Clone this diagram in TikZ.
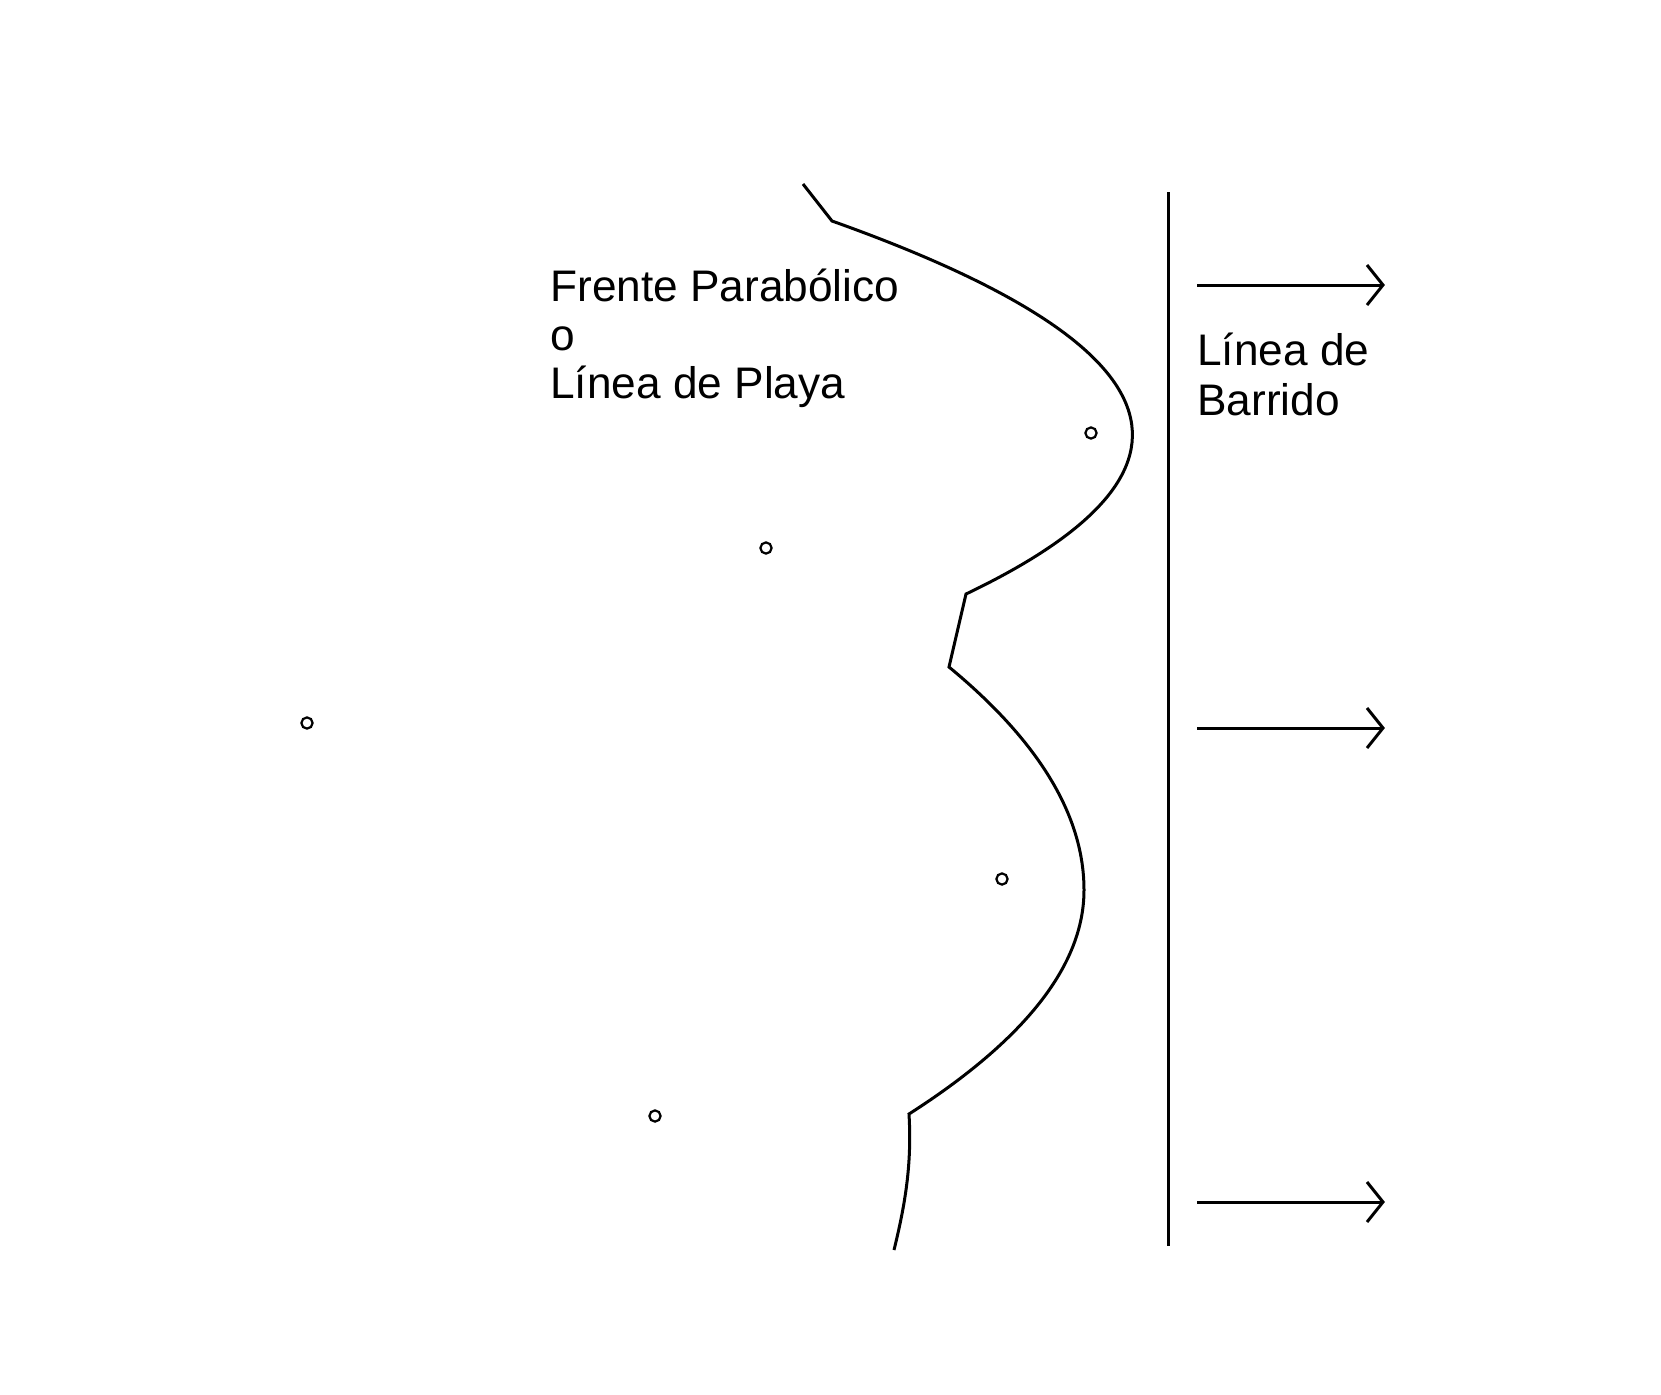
\documentclass[tikz,border=0pt]{standalone}
\usepackage{fontspec}
\setmainfont{Liberation Sans}
\begin{document}
\begin{tikzpicture}[x=0.5pt,y=-0.5pt,
  shore/.style={line width=1.5pt,line join=miter},
  lbl/.style={anchor=base west,inner sep=0pt,font=\fontsize{22.1}{24.3}\selectfont},
  dot/.style={line width=1.1pt},
  flow/.style={line width=1.5pt}]
\fill[white] (0,0) rectangle (1661,1394);
\useasboundingbox (0,0) rectangle (1661,1394);
% front / beach line
\draw[shore] (803,184) -- (832,221)
  .. controls (1181.3,345.3) and (1226,469.7) .. (966,594)
  -- (949,667)
  .. controls (1039,741.3) and (1084,815.7) .. (1084,890)
  .. controls (1084,964.7) and (1025.7,1039.3) .. (909,1114)
  .. controls (912,1165) and (905,1205) .. (894,1250);
% sweep line
\coordinate (vt) at (1168.5,192);
\coordinate (vb) at (1168.5,1246);
\draw[flow] (vt) -- (vb);
% arrows
\foreach \i/\yy in {1/285,2/728,3/1202}{
  \coordinate (s\i) at (1197,\yy);
  \coordinate (e\i) at (1383,\yy);
  \draw[flow] (s\i) -- (e\i);
  \draw[flow,line join=miter] ([shift={(-16,-20)}]e\i) -- (e\i) -- ([shift={(-16,20)}]e\i);
}
% sites
\foreach \n/\px/\py in {a/1091/433,b/766/548,c/307/723,d/1002/879,e/655/1116}{
  \draw[dot] (\px,\py) circle[radius=2.8pt];
}
% labels
\node[lbl] (t1) at (550,301) {Frente Parabólico};
\node[lbl] (t2) at (550,350) {o};
\node[lbl] (t3) at (550,398) {Línea de Playa};
\node[lbl] (b1) at (1197,365) {Línea de};
\node[lbl] (b2) at (1197,415) {Barrido};
\end{tikzpicture}
\end{document}
